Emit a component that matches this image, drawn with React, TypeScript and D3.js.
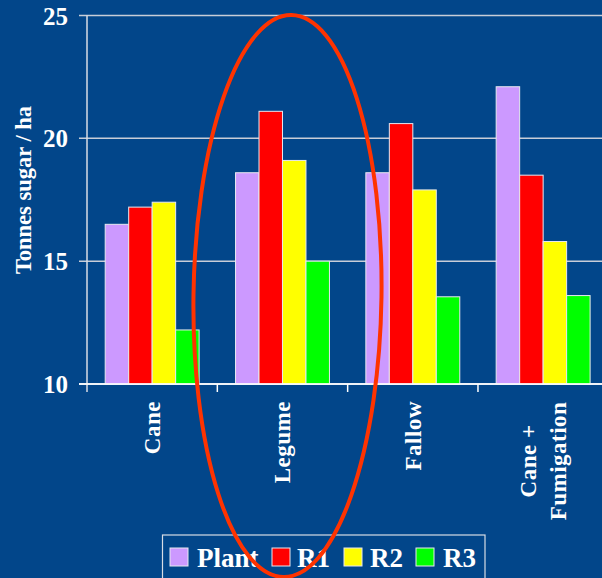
import React from "react";
import * as d3 from "d3";

const categories = ["Cane", "Legume", "Fallow", "Cane +\nFumigation"];
const seriesNames = ["Plant", "R1", "R2", "R3"];
const plantValues = [16.5, 18.6, 18.6, 22.1];
const r1Values = [17.2, 21.1, 20.6, 18.5];
const r2Values = [17.4, 19.1, 17.9, 15.8];
const r3Values = [12.2, 15.0, 13.55, 13.6];
const yTicks = [10, 15, 20, 25];
const colors = ["#cc99ff", "#ff0000", "#ffff00", "#00ff00"];

const W = 602;
const H = 578;
const BG = "#02468a";
const FONT = "'Liberation Serif', 'Times New Roman', serif";

export default function App() {
  const seriesValues = [plantValues, r1Values, r2Values, r3Values];
  const x = d3.scaleBand<string>().domain(categories).range([87, 608.3]).padding(0);
  const bw = x.bandwidth();
  const inner = d3.scaleBand<string>().domain(seriesNames).range([18.2, bw - 18.2]).padding(0);
  const y = d3.scaleLinear().domain([10, 25]).range([384, 15.5]);

  const legumeCenter = (x("Legume") as number) + bw / 2;

  const legendItems = [
    { sx: 170, tx: 197 },
    { sx: 272, tx: 297 },
    { sx: 344, tx: 370 },
    { sx: 416, tx: 443 },
  ];

  return (
    <svg width={W} height={H} style={{ position: "absolute", left: 0, top: 0, display: "block" }}>
      <rect x={0} y={0} width={W} height={H} fill={BG} />
      {/* gridlines */}
      {yTicks.map((t) => (
        <line key={"g" + t} x1={79} x2={W} y1={y(t)} y2={y(t)} stroke={t === 10 ? "#ffffff" : "#c8cdd8"} strokeWidth={1.5} />
      ))}
      {/* bars */}
      {categories.map((c, ci) =>
        seriesNames.map((s, si) => {
          const v = seriesValues[si][ci];
          return (
            <rect
              key={c + s}
              x={(x(c) as number) + (inner(s) as number)}
              y={y(v)}
              width={inner.bandwidth()}
              height={y(10) - y(v)}
              fill={colors[si]}
              stroke="#e8e8f0"
              strokeWidth={1}
            />
          );
        })
      )}
      {/* y axis */}
      <line x1={87} x2={87} y1={15.5} y2={392} stroke="#d8dce4" strokeWidth={1.5} />
      <line x1={79} x2={W} y1={y(10)} y2={y(10)} stroke="#ffffff" strokeWidth={1.5} />
      {categories.map((c) => (
        <line key={"t" + c} x1={(x(c) as number) + bw} x2={(x(c) as number) + bw} y1={384} y2={392} stroke="#ffffff" strokeWidth={1.5} />
      ))}
      {yTicks.map((t) => (
        <text key={"l" + t} x={68} y={y(t) + 9} textAnchor="end" fill="#ffffff" fontFamily={FONT} fontWeight="bold" fontSize={25}>
          {t}
        </text>
      ))}
      <text
        transform={`translate(30.5,190) rotate(-90)`}
        textAnchor="middle"
        fill="#ffffff"
        fontFamily={FONT}
        fontWeight="bold"
        fontSize={22.5}
      >
        Tonnes sugar / ha
      </text>
      {/* category labels */}
      {categories.map((c) => {
        const lines = c.split("\n");
        const cx = (x(c) as number) + bw / 2;
        const gap = 30;
        if (lines.length === 1) {
          return (
            <text
              key={"c" + c}
              transform={`translate(${cx + 8},401) rotate(-90)`}
              textAnchor="end"
              fill="#ffffff"
              fontFamily={FONT}
              fontWeight="bold"
              fontSize={23}
              letterSpacing={0.5}
            >
              {c}
            </text>
          );
        }
        return (
          <g key={"c" + c}>
            {lines.map((ln, li) => (
              <text
                key={ln}
                transform={`translate(${cx + 8 + (li - (lines.length - 1) / 2) * gap},461) rotate(-90)`}
                textAnchor="middle"
                fill="#ffffff"
                fontFamily={FONT}
                fontWeight="bold"
                fontSize={23}
                letterSpacing={0.5}
              >
                {ln}
              </text>
            ))}
          </g>
        );
      })}
      {/* legend */}
      <rect x={162.5} y={535} width={322.5} height={60} fill="none" stroke="#d8dce4" strokeWidth={1.2} />
      {seriesNames.map((s, i) => (
        <g key={"lg" + s}>
          <rect x={legendItems[i].sx} y={548} width={18} height={18} fill={colors[i]} stroke="#e8e8f0" strokeWidth={1} />
          <text x={legendItems[i].tx} y={567} fill="#ffffff" fontFamily={FONT} fontWeight="bold" fontSize={27}>
            {s}
          </text>
        </g>
      ))}
      {/* annotation ellipse */}
      <ellipse
        cx={legumeCenter + 5}
        cy={296}
        rx={94}
        ry={281}
        fill="none"
        stroke="#ff3300"
        strokeWidth={4}
        transform={`rotate(0.8 ${legumeCenter + 5} 296)`}
      />
    </svg>
  );
}
